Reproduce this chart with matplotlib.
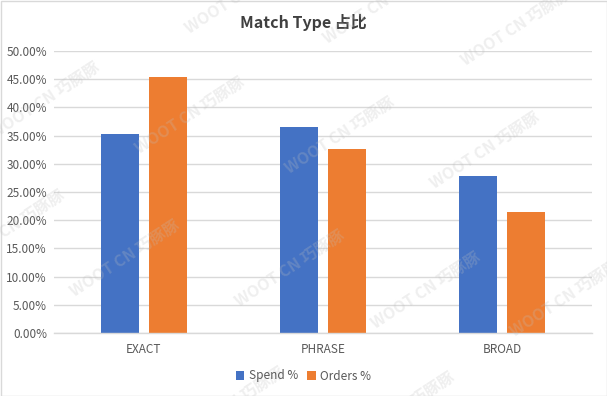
import numpy as np
import matplotlib
matplotlib.use("Agg")
import matplotlib.pyplot as plt
from matplotlib.patches import Rectangle

plt.rcParams['font.family'] = ['Noto Sans CJK SC', 'DejaVu Sans']

# ── data ─────────────────────────────────────────────────────────────────────
categories = ["EXACT", "PHRASE", "BROAD"]
spend_pct  = [35.3, 36.6, 27.9]
orders_pct = [45.4, 32.6, 21.5]
series_names = ["Spend %", "Orders %"]
y_ticks = [0, 5, 10, 15, 20, 25, 30, 35, 40, 45, 50]

BLUE   = "#4472C4"
ORANGE = "#ED7D31"
GRID   = "#D9D9D9"
LABEL  = "#595959"

# ── plot ─────────────────────────────────────────────────────────────────────
fig = plt.figure(figsize=(6.07, 3.96), dpi=100)
ax = fig.add_axes([54 / 607, 1 - 333 / 396, (592 - 54) / 607, (333 - 51) / 396])

x = np.arange(len(categories))
w = 0.212
off = 0.134
ax.bar(x - off, spend_pct, width=w, color=BLUE, label=series_names[0], zorder=3)
ax.bar(x + off, orders_pct, width=w, color=ORANGE, label=series_names[1], zorder=3)

ax.set_xlim(-0.5, len(categories) - 0.5)
ax.set_ylim(0, 50)
ax.set_yticks(y_ticks)
ax.set_yticklabels([f"{v:.2f}%" for v in y_ticks])
ax.set_xticks(x)
ax.set_xticklabels(categories)
ax.tick_params(axis="both", length=0, labelsize=8.5, labelcolor=LABEL)
ax.tick_params(axis="y", pad=5)
ax.tick_params(axis="x", pad=7)
ax.grid(axis="y", color=GRID, linewidth=1, zorder=0)
for s in ["top", "left", "right"]:
    ax.spines[s].set_visible(False)
ax.spines["bottom"].set_color(GRID)
ax.spines["bottom"].set_linewidth(1)
ax.spines["bottom"].set_zorder(4)

fig.text(0.5, 1 - 22 / 396, "Match Type 占比", ha="center", va="center",
         fontsize=11.5, fontweight="bold", color="#404040")

leg = fig.legend(loc="center", bbox_to_anchor=(0.5, 1 - 376 / 396), ncol=2,
                 frameon=False, fontsize=8.5, handlelength=0.7, handleheight=0.7,
                 handletextpad=0.4, columnspacing=0.8)
for t in leg.get_texts():
    t.set_color(LABEL)

# watermark
marks = [(240, -5), (378, 5), (516, 27),
         (45, 100), (190, 115), (340, 135), (485, 150),
         (10, 228), (125, 258), (290, 268), (426, 290), (565, 298),
         (230, 405), (400, 410)]
for mx, my in marks:
    fig.text(mx / 607, 1 - my / 396, "WOOT CN 巧豚豚", rotation=33,
             ha="center", va="center", fontsize=11.5, fontweight="bold",
             color="#BFBFBF", alpha=0.25, zorder=5)

fig.patches.append(Rectangle((0.5 / 607, 0.5 / 396), 1 - 1 / 607, 1 - 1 / 396,
                             transform=fig.transFigure, fill=False,
                             edgecolor=GRID, linewidth=1))

plt.savefig("out.png", dpi=100)
